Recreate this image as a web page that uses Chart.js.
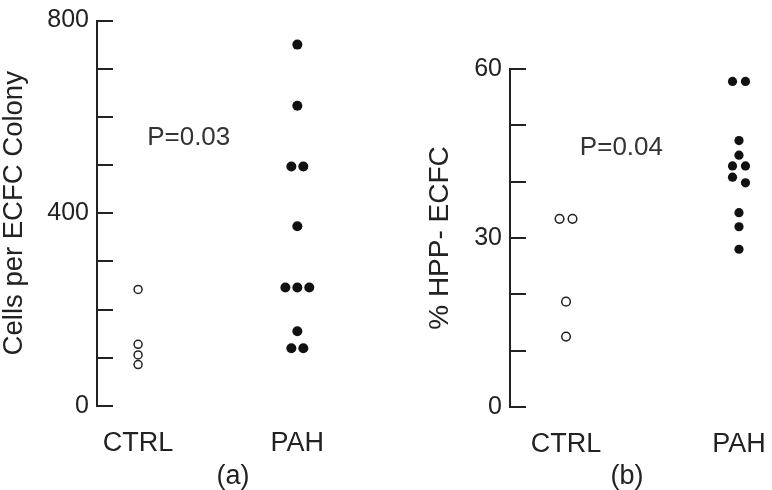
<!DOCTYPE html>
<html>
<head>
<meta charset="utf-8">
<script src="https://cdn.jsdelivr.net/npm/chart.js@4"></script>
<style>
  html, body { margin: 0; padding: 0; background: #fff; }
  body { width: 772px; height: 490px; position: relative; overflow: hidden; }
  .panel { position: absolute; top: 0; height: 490px; }
  #panelA { left: 0; width: 400px; }
  #panelB { left: 420px; width: 380px; }
</style>
</head>
<body>
<div class="panel" id="panelA"><canvas id="chartA"></canvas></div>
<div class="panel" id="panelB"><canvas id="chartB"></canvas></div>
<script>
// groups on the x axis
const groups = ["CTRL", "PAH"];

// (a) cells per ECFC colony
const ctrlCells = [242, 128, 106, 86];
const pahCells = [750, 623, 497, 497, 373, 246, 246, 246, 155, 120, 120];
const cellTicks = [0, 400, 800];

// (b) % HPP- ECFC
const ctrlHpp = [33.4, 33.4, 18.7, 12.5];
const pahHpp = [57.8, 57.8, 47.3, 44.7, 42.8, 42.8, 40.8, 39.8, 34.5, 32.0, 28.0];
const hppTicks = [0, 30, 60];

const font = "'Liberation Sans', Arial, Helvetica, sans-serif";

// spread dots that sit on (almost) the same value side by side
function dotPlot(values, group, range) {
    let sorted = values.slice().sort((a, b) => b - a);
    let points = [];
    let i = 0;
    while (i < sorted.length) {
        let cluster = [sorted[i]];
        let j = i + 1;
        while (j < sorted.length && cluster[cluster.length - 1] - sorted[j] < range * 0.02) {
            cluster.push(sorted[j]);
            j++;
        }
        cluster.forEach(function (v, k) {
            points.push({ x: group + (k - (cluster.length - 1) / 2) * 0.075, y: v });
        });
        i = j;
    }
    return points;
}

// inward tick marks on the y axis + the P value text
const axisMarks = {
    id: "axisMarks",
    afterDraw(chart, args, opts) {
        const ctx = chart.ctx;
        const y = chart.scales.y;
        const x = chart.scales.x;
        const left = chart.chartArea.left;
        ctx.save();
        ctx.strokeStyle = "#222";
        ctx.lineWidth = 2;
        y.ticks.forEach(function (t) {
            let py = Math.round(y.getPixelForValue(t.value));
            ctx.beginPath();
            ctx.moveTo(left, py);
            ctx.lineTo(left + 16, py);
            ctx.stroke();
        });
        ctx.fillStyle = "#333";
        ctx.font = "26px " + font;
        ctx.textBaseline = "alphabetic";
        ctx.fillText(opts.text, x.getPixelForValue(opts.x), y.getPixelForValue(opts.y));
        ctx.restore();
    }
};

function makeChart(id, cfg) {
    return new Chart(document.getElementById(id), {
        type: "scatter",
        data: {
            datasets: [
                {
                    data: dotPlot(cfg.ctrl, 1, cfg.max),
                    backgroundColor: "#fff",
                    borderColor: "#222",
                    borderWidth: 1.5,
                    pointRadius: cfg.openRadius,
                    clip: false
                },
                {
                    data: dotPlot(cfg.pah, 2, cfg.max),
                    backgroundColor: "#111",
                    borderColor: "#111",
                    borderWidth: 0,
                    pointRadius: cfg.dotRadius,
                    clip: false
                }
            ]
        },
        options: {
            responsive: true,
            maintainAspectRatio: false,
            animation: false,
            layout: { padding: cfg.padding },
            plugins: {
                legend: { display: false },
                tooltip: { enabled: false },
                axisMarks: { text: cfg.pText, x: cfg.pX, y: cfg.pY }
            },
            scales: {
                x: {
                    type: "linear",
                    min: cfg.xMin,
                    max: cfg.xMax,
                    grid: { display: false },
                    border: { display: false },
                    afterBuildTicks: function (s) { s.ticks = [{ value: 1 }, { value: 2 }]; },
                    afterFit: function (s) { s.height = cfg.xHeight; },
                    ticks: {
                        padding: 13,
                        maxRotation: 0,
                        color: "#222",
                        font: { family: font, size: 27 },
                        callback: function (v) { return groups[v - 1]; }
                    },
                    title: {
                        display: true,
                        text: cfg.panel,
                        color: "#222",
                        font: { family: font, size: 27, lineHeight: 1 },
                        padding: { top: 0, bottom: 0 }
                    }
                },
                y: {
                    min: 0,
                    max: cfg.max,
                    grid: { display: false, drawTicks: false },
                    border: { display: true, color: "#222", width: 2 },
                    afterFit: function (s) { s.width = cfg.yWidth; },
                    ticks: {
                        stepSize: cfg.step,
                        padding: 8,
                        color: "#222",
                        font: { family: font, size: 25, lineHeight: 1 },
                        callback: function (v) { return cfg.labels.includes(v) ? String(v) : ""; }
                    },
                    title: {
                        display: true,
                        text: cfg.title,
                        color: "#222",
                        font: { family: font, size: cfg.titleSize, lineHeight: 1.05 },
                        padding: { top: cfg.titlePad, bottom: 0 }
                    }
                }
            }
        },
        plugins: [axisMarks]
    });
}

makeChart("chartA", {
    ctrl: ctrlCells, pah: pahCells, labels: cellTicks,
    max: 800, step: 100, panel: "(a)",
    title: "Cells per ECFC Colony", titleSize: 27.5, titlePad: 0,
    pText: "P=0.03", pX: 1.057, pY: 541,
    xMin: 0.742, xMax: 2.45, xHeight: 84, yWidth: 97,
    padding: { top: 13, right: 31, left: 0, bottom: 0 },
    openRadius: 4, dotRadius: 5
});

makeChart("chartB", {
    ctrl: ctrlHpp, pah: pahHpp, labels: hppTicks,
    max: 60, step: 10, panel: "(b)",
    title: "% HPP- ECFC", titleSize: 28, titlePad: 6,
    pText: "P=0.04", pX: 1.08, pY: 44.7,
    xMin: 0.676, xMax: 2.029, xHeight: 83, yWidth: 90,
    padding: { top: 69, right: 56, left: 0, bottom: 0 },
    openRadius: 4.3, dotRadius: 4.6
});
</script>
</body>
</html>
